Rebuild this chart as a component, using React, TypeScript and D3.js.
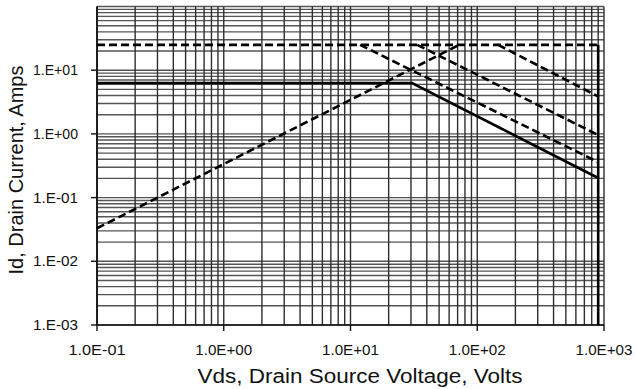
import React from "react";
import * as d3 from "d3";

const W = 637;
const H = 389;

const xTickValues = [0.1, 1, 10, 100, 1000];
const xTickLabels = ["1.0E-01", "1.0E+00", "1.0E+01", "1.0E+02", "1.0E+03"];
const yTickValues = [0.001, 0.01, 0.1, 1, 10];
const yTickLabels = ["1.E-03", "1.E-02", "1.E-01", "1.E+00", "1.E+01"];

// Series (Vds in volts, Id in amps)
const rdsLimitV = [0.1, 72];
const rdsLimitI = [0.033, 25];
const currentLimitV = [0.1, 900];
const currentLimitI = [25, 25];
const pulseAV = [146, 900];
const pulseAI = [25, 3.87];
const pulseBV = [11.9, 900];
const pulseBI = [25, 0.36];
const pulseCV = [33.6, 900];
const pulseCI = [25, 0.96];
const dcV = [0.1, 30.6, 900];
const dcI = [6.3, 6.3, 0.203];
const bvV = [900, 900];
const bvI = [25, 0.001];

const seriesList = [
  { v: rdsLimitV, i: rdsLimitI, dashed: true },
  { v: currentLimitV, i: currentLimitI, dashed: true },
  { v: pulseAV, i: pulseAI, dashed: true },
  { v: pulseBV, i: pulseBI, dashed: true },
  { v: pulseCV, i: pulseCI, dashed: true },
  { v: dcV, i: dcI, dashed: false },
  { v: bvV, i: bvI, dashed: false },
];

export default function App() {
  const left = 97;
  const right = 604;
  const top = 6.5;
  const bottom = 325;

  const x = d3.scaleLog().domain([0.1, 1000]).range([left, right]);
  const y = d3.scaleLog().domain([0.001, 100]).range([bottom, top]);

  const minorX: number[] = [];
  for (let e = -1; e <= 2; e++) {
    for (let k = 1; k <= 9; k++) minorX.push(k * Math.pow(10, e));
  }
  minorX.push(1000);
  const minorY: number[] = [];
  for (let e = -3; e <= 1; e++) {
    for (let k = 1; k <= 9; k++) minorY.push(k * Math.pow(10, e));
  }
  minorY.push(100);

  const line = d3
    .line<[number, number]>()
    .x((d) => x(d[0]))
    .y((d) => y(d[1]));

  const font = "Arial, 'Liberation Sans', sans-serif";

  return (
    <svg
      width={W}
      height={H}
      style={{ position: "absolute", left: 0, top: 0, background: "#fff" }}
      fontFamily={font}
    >
      <rect x={0} y={0} width={W} height={H} fill="#fff" />
      {/* horizontal grid */}
      {minorY.map((v, idx) => (
        <line
          key={"hy" + idx}
          x1={left}
          x2={right}
          y1={y(v)}
          y2={y(v)}
          stroke="#555"
          strokeWidth={1.4}
        />
      ))}
      {/* vertical grid */}
      {minorX.map((v, idx) => (
        <line
          key={"vx" + idx}
          x1={x(v)}
          x2={x(v)}
          y1={top}
          y2={bottom}
          stroke="#2e2e2e"
          strokeWidth={1.4}
        />
      ))}
      {/* axes */}
      <line x1={left} x2={left} y1={top} y2={bottom} stroke="#111" strokeWidth={1.7} />
      <line x1={left} x2={right} y1={bottom} y2={bottom} stroke="#111" strokeWidth={1.7} />
      {yTickValues.map((v, idx) => (
        <line
          key={"yt" + idx}
          x1={left - 6}
          x2={left}
          y1={y(v)}
          y2={y(v)}
          stroke="#111"
          strokeWidth={1.4}
        />
      ))}
      {xTickValues.map((v, idx) => (
        <line
          key={"xt" + idx}
          x1={x(v)}
          x2={x(v)}
          y1={bottom}
          y2={bottom + 6}
          stroke="#111"
          strokeWidth={1.4}
        />
      ))}
      {/* data */}
      {seriesList.map((s, idx) => (
        <path
          key={"s" + idx}
          d={line(s.v.map((vv, j) => [vv, s.i[j]] as [number, number])) || ""}
          fill="none"
          stroke="#000"
          strokeWidth={2.6}
          strokeDasharray={s.dashed ? "8,4" : undefined}
        />
      ))}
      {/* tick labels */}
      {yTickValues.map((v, idx) => (
        <text
          key={"yl" + idx}
          x={78}
          y={y(v) + 5}
          textAnchor="end"
          fontSize={14}
          textLength={45}
          lengthAdjust="spacingAndGlyphs"
          fill="#111"
        >
          {yTickLabels[idx]}
        </text>
      ))}
      {xTickValues.map((v, idx) => (
        <text
          key={"xl" + idx}
          x={x(v)}
          y={355}
          textAnchor="middle"
          fontSize={15}
          textLength={57}
          lengthAdjust="spacingAndGlyphs"
          fill="#111"
        >
          {xTickLabels[idx]}
        </text>
      ))}
      {/* axis titles */}
      <text
        x={360}
        y={383}
        textAnchor="middle"
        fontSize={20}
        textLength={325}
        lengthAdjust="spacingAndGlyphs"
        fill="#111"
      >
        Vds, Drain Source Voltage, Volts
      </text>
      <text
        transform="translate(23,170) rotate(-90)"
        textAnchor="middle"
        fontSize={20}
        fill="#111"
      >
        Id, Drain Current, Amps
      </text>
    </svg>
  );
}
